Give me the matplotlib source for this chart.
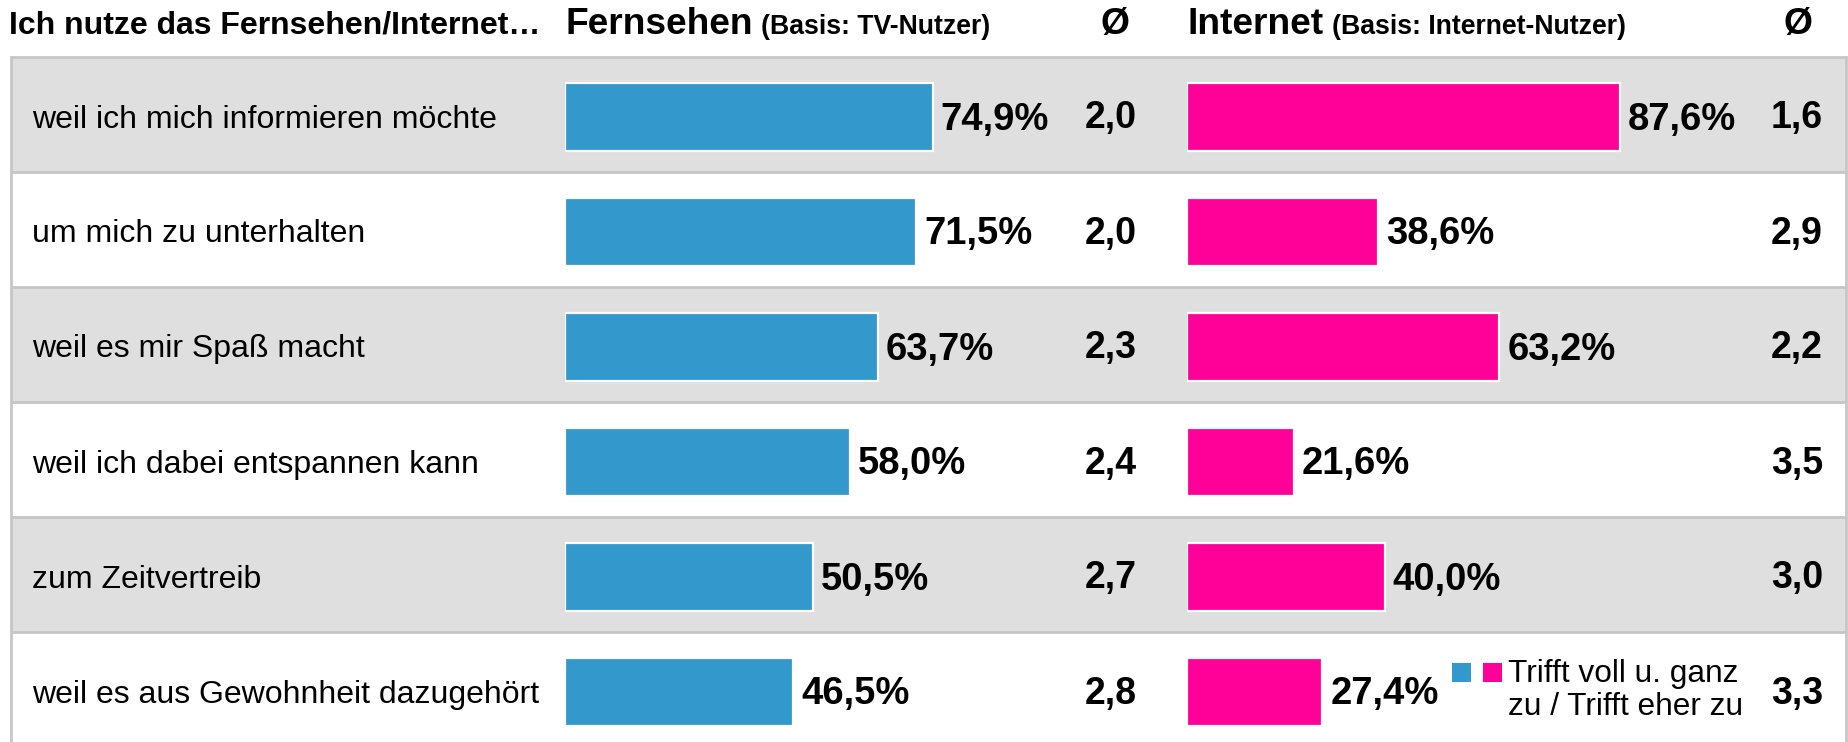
import matplotlib
matplotlib.use("Agg")
import matplotlib.pyplot as plt
from matplotlib.patches import Rectangle

plt.rcParams['font.family'] = ['Liberation Sans', 'DejaVu Sans']

# ---- data ----
categories = [
    "weil ich mich informieren möchte",
    "um mich zu unterhalten",
    "weil es mir Spaß macht",
    "weil ich dabei entspannen kann",
    "zum Zeitvertreib",
    "weil es aus Gewohnheit dazugehört",
]
tv_pct = [74.9, 71.5, 63.7, 58.0, 50.5, 46.5]
tv_avg = [2.0, 2.0, 2.3, 2.4, 2.7, 2.8]
web_pct = [87.6, 38.6, 63.2, 21.6, 40.0, 27.4]
web_avg = [1.6, 2.9, 2.2, 3.5, 3.0, 3.3]

title_left = "Ich nutze das Fernsehen/Internet…"
title_tv = "Fernsehen"
basis_tv = "(Basis: TV-Nutzer)"
title_web = "Internet"
basis_web = "(Basis: Internet-Nutzer)"
avg_symbol = "Ø"
legend_lines = ["Trifft voll u. ganz", "zu / Trifft eher zu"]

# ---- style ----
BLUE = "#3399cc"
PINK = "#ff0099"
GREY = "#dfdfdf"
BORDER = "#c6c6c6"

def fmt(v, pct=True):
    s = f"{v:.1f}".replace(".", ",")
    return s + "%" if pct else s

W, H = 1849, 742
fig = plt.figure(figsize=(W / 100, H / 100), dpi=100)

# background axes in pixel coordinates
bg = fig.add_axes([0, 0, 1, 1])
bg.set_xlim(0, W)
bg.set_ylim(H, 0)
bg.axis("off")

ROW_TOP = 57
ROW_H = 115
LEFT, RIGHT = 11, 1846
n = len(categories)

for i in range(n):
    top = ROW_TOP + i * ROW_H
    if i % 2 == 0:
        bg.add_patch(Rectangle((LEFT, top), RIGHT - LEFT, ROW_H,
                               facecolor=GREY, edgecolor="none", zorder=0))
    bg.plot([LEFT, RIGHT], [top, top], color=BORDER, lw=2.0, zorder=1,
            solid_capstyle="butt")
bg.plot([LEFT, LEFT], [ROW_TOP, H], color=BORDER, lw=2.0, zorder=1)
bg.plot([RIGHT, RIGHT], [ROW_TOP, H], color=BORDER, lw=2.0, zorder=1)

row_centers = [ROW_TOP + (i + 0.5) * ROW_H for i in range(n)]

# headers
HB = 34
bg.text(9, HB, title_left, fontsize=23, fontweight="bold", va="baseline", ha="left")
bg.text(565, HB, title_tv, fontsize=26.7, fontweight="bold", va="baseline", ha="left")
bg.text(761, HB, basis_tv, fontsize=19.2, fontweight="bold", va="baseline", ha="left")
bg.text(1115, HB, avg_symbol, fontsize=26.7, fontweight="bold", va="baseline", ha="center")
bg.text(1187, HB, title_web, fontsize=26.7, fontweight="bold", va="baseline", ha="left")
bg.text(1332, HB, basis_web, fontsize=19.2, fontweight="bold", va="baseline", ha="left")
bg.text(1798, HB, avg_symbol, fontsize=26.7, fontweight="bold", va="baseline", ha="center")

# row labels and averages
for i, c in enumerate(row_centers):
    bg.text(32, c + 13, categories[i], fontsize=23, va="baseline", ha="left", zorder=3)
    bg.text(1111, c + 14, fmt(tv_avg[i], False), fontsize=27, fontweight="bold",
            va="baseline", ha="center", zorder=3)
    bg.text(1797, c + 14, fmt(web_avg[i], False), fontsize=27, fontweight="bold",
            va="baseline", ha="center", zorder=3)

# bar axes
def bar_axes(x0, px_per_pct, values, color):
    width_px = 520
    ax = fig.add_axes([x0 / W, 0, width_px / W, 1])
    ax.set_xlim(0, width_px / px_per_pct)
    ax.set_ylim(H, 0)
    ax.axis("off")
    ax.patch.set_alpha(0)
    yc = [c + 2 for c in row_centers]
    ax.barh(yc, values, height=68, color=color, edgecolor="white", linewidth=1.6,
            zorder=2)
    for y, v in zip(yc, values):
        ax.annotate(fmt(v), xy=(v, y + 13), xytext=(8, 0), textcoords="offset pixels",
                    fontsize=27.5, fontweight="bold", va="baseline", ha="left",
                    annotation_clip=False)
    return ax

bar_axes(565, 4.91, tv_pct, BLUE)
bar_axes(1187, 4.94, web_pct, PINK)

# legend
bg.add_patch(Rectangle((1452, 663), 19, 19, facecolor=BLUE, edgecolor="none", zorder=3))
bg.add_patch(Rectangle((1483, 663), 19, 19, facecolor=PINK, edgecolor="none", zorder=3))
for k, line in enumerate(legend_lines):
    bg.text(1508, 682 + k * 33, line, fontsize=22.8, va="baseline", ha="left", zorder=3)

fig.savefig("out.png", dpi=100)
